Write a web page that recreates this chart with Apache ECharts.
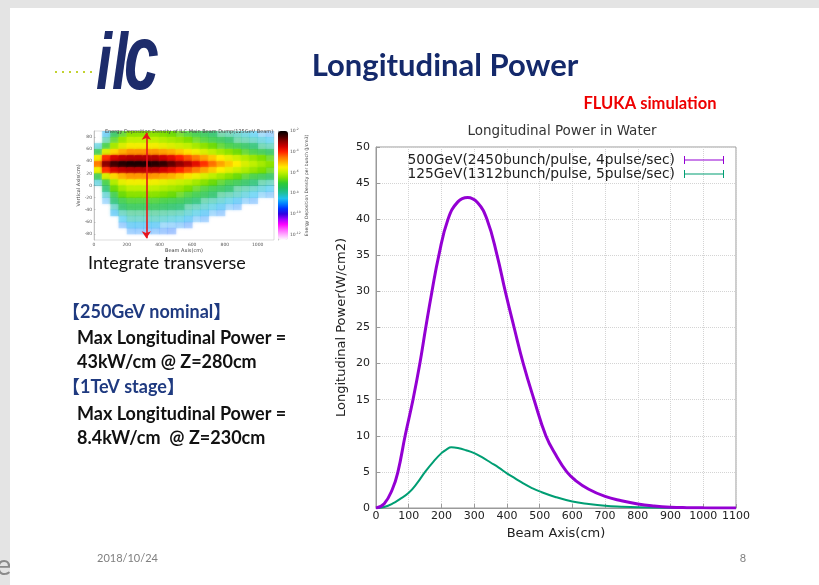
<!DOCTYPE html>
<html>
<head>
<meta charset="utf-8">
<script src="https://cdn.jsdelivr.net/npm/echarts@6/dist/echarts.min.js"></script>
<style>
  html, body { margin: 0; padding: 0; background: #e4e4e4; }
  #chart { width: 819px; height: 585px; }
</style>
</head>
<body>
<div id="chart"></div>
<script>
// Longitudinal power deposited in the water dump (W/cm2) along the beam axis (cm)
const name500 = '500GeV(2450bunch/pulse, 4pulse/sec)';
const name125 = '125GeV(1312bunch/pulse, 5pulse/sec)';

const beamAxis500 = [0, 25, 50, 67, 89, 113, 134, 152, 171, 192, 220, 250, 280, 310, 339, 370, 395, 422, 450, 483, 519, 550, 583, 610, 650, 700, 750, 800, 850, 900, 950, 1000, 1050, 1100];
const power500 = [0, 0.6, 2.6, 5, 10, 15, 20, 25, 30, 35, 40, 42.4, 43, 42.3, 40, 35, 30, 25, 20, 15, 10, 7.3, 5, 3.8, 2.6, 1.6, 1.0, 0.55, 0.28, 0.12, 0.05, 0.02, 0.01, 0];

const beamAxis125 = [0, 25, 50, 75, 100, 125, 150, 175, 200, 215, 230, 250, 275, 300, 325, 350, 375, 400, 425, 450, 475, 500, 550, 600, 650, 700, 750, 800, 900, 1000, 1100];
const power125 = [0, 0.15, 0.6, 1.3, 2.1, 3.4, 5.0, 6.4, 7.6, 8.1, 8.4, 8.3, 8.0, 7.6, 7.0, 6.3, 5.6, 4.8, 4.1, 3.4, 2.8, 2.3, 1.5, 0.9, 0.55, 0.3, 0.17, 0.09, 0.03, 0.01, 0];

// Energy deposition map of the main beam dump (log10 of J/cm3 per bunch),
// one column per 50 cm slice along the beam, rows from top (85 cm) to bottom (-85 cm)
const dumpBeamAxis = [25, 75, 125, 175, 225, 275, 325, 375, 425, 475, 525, 575, 625, 675, 725, 775, 825, 875, 925, 975, 1025, 1075];
const dumpVertical = [85, 75, 65, 55, 45, 35, 25, 15, 5, -5, -15, -25, -35, -45, -55, -65, -75, -85];
const dumpLog10 = [
  [null, null, -8.3, -7.2, -5.6, -4.6, -5.6, -7.2, -8.3, null, null, null, null, null, null, null, null, null],
  [-8.6, -7.9, -7, -5.8, -4.1, -3, -4.1, -5.8, -7, -7.6, -8.2, -8.8, null, null, null, null, null, null],
  [-7.4, -6.8, -6.2, -5.3, -3.6, -2.5, -3.6, -5.3, -6.1, -6.6, -7.1, -7.6, -8.1, -8.6, null, null, null, null],
  [-6.8, -6.3, -5.8, -5, -3.4, -2.3, -3.4, -5, -5.7, -6.2, -6.6, -7.1, -7.5, -8, -8.5, -9, null, null],
  [-6.4, -6, -5.6, -4.8, -3.3, -2.2, -3.3, -4.8, -5.6, -6, -6.4, -6.9, -7.3, -7.7, -8.1, -8.6, -9, null],
  [-6.4, -6, -5.6, -4.8, -3.3, -2.2, -3.3, -4.8, -5.6, -6, -6.4, -6.9, -7.3, -7.7, -8.1, -8.6, -9, null],
  [-6.4, -6, -5.6, -4.8, -3.3, -2.2, -3.3, -4.8, -5.6, -6, -6.4, -6.9, -7.3, -7.7, -8.1, -8.6, -9, null],
  [-6.4, -6, -5.6, -4.8, -3.3, -2.3, -3.3, -4.8, -5.6, -6, -6.4, -6.9, -7.3, -7.7, -8.1, -8.6, -9, null],
  [-6.5, -6.1, -5.7, -4.9, -3.5, -2.4, -3.5, -4.9, -5.7, -6.1, -6.5, -7, -7.4, -7.8, -8.2, -8.7, -9.1, null],
  [-6.6, -6.2, -5.8, -5, -3.7, -2.7, -3.7, -5, -5.8, -6.2, -6.6, -7.1, -7.5, -7.9, -8.3, -8.8, -9.2, null],
  [-6.7, -6.3, -5.9, -5.2, -4, -3, -4, -5.2, -5.9, -6.3, -6.7, -7.2, -7.6, -8, -8.4, -8.9, null, null],
  [-6.9, -6.5, -6, -5.4, -4.3, -3.3, -4.3, -5.4, -6, -6.5, -6.9, -7.4, -7.8, -8.2, -8.6, -9.1, null, null],
  [-7.1, -6.7, -6.2, -5.6, -4.6, -3.7, -4.6, -5.6, -6.2, -6.7, -7.1, -7.6, -8, -8.4, -8.8, null, null, null],
  [-7.3, -6.9, -6.4, -5.8, -4.9, -4.1, -4.9, -5.8, -6.4, -6.9, -7.3, -7.8, -8.2, -8.6, -9, null, null, null],
  [-7.5, -7.1, -6.6, -6, -5.2, -4.5, -5.2, -6, -6.6, -7.1, -7.5, -8, -8.4, -8.8, null, null, null, null],
  [-7.7, -7.3, -6.8, -6.2, -5.5, -4.9, -5.5, -6.2, -6.8, -7.3, -7.7, -8.2, -8.6, -9, null, null, null, null],
  [-7.9, -7.5, -7, -6.4, -5.7, -5.2, -5.7, -6.4, -7, -7.5, -7.9, -8.4, -8.8, null, null, null, null, null],
  [-8.1, -7.7, -7.2, -6.6, -5.9, -5.5, -5.9, -6.6, -7.2, -7.7, -8.1, -8.6, -9, null, null, null, null, null],
  [-8.3, -7.9, -7.4, -6.8, -6.1, -5.8, -6.1, -6.8, -7.4, -7.9, -8.3, -8.8, null, null, null, null, null, null],
  [-8.5, -8.1, -7.6, -7, -6.3, -6, -6.3, -7, -7.6, -8.1, -8.5, -9, null, null, null, null, null, null],
  [-8.7, -8.3, -7.8, -7.2, -6.5, -6.2, -6.5, -7.2, -7.8, -8.3, -8.7, null, null, null, null, null, null, null],
  [-8.9, -8.5, -8, -7.4, -6.7, -6.4, -6.7, -7.4, -8, -8.5, -8.9, null, null, null, null, null, null, null]
];
const dumpTickX = [0, 200, 400, 600, 800, 1000];
const dumpTickY = [-80, -60, -40, -20, 0, 20, 40, 60, 80];
const colorbarTicks = [-2, -4, -6, -8, -10, -12];
const integrationLineZ = 320;

const colorbarColors = ['#ffffff', '#ffb0ff', '#ff60ff', '#ff00ff', '#a000ff', '#3000e0', '#0030ff', '#0080ff',
  '#20c0f0', '#20c0a0', '#20c060', '#30cc30', '#80e000', '#c0f000', '#ffee00', '#ffb000', '#ff7000',
  '#ff2000', '#d00000', '#900000', '#400000', '#000000'];

const zip = (xs, ys) => xs.map((x, i) => [x, ys[i]]);
const dumpCells = [];
dumpBeamAxis.forEach((x, c) => {
  dumpVertical.forEach((y, r) => {
    const v = dumpLog10[c][r];
    if (v !== null) dumpCells.push([x, y, v]);
  });
});

const slideFont = "Lato, 'Noto Sans CJK JP', sans-serif";
const plainNumber = v => String(v);
const chart = echarts.init(document.getElementById('chart'), null, { renderer: 'canvas' });

const option = {
  backgroundColor: '#e4e4e4',
  animation: false,
  textStyle: { fontFamily: 'DejaVu Sans' },
  title: [
    {
      text: 'Longitudinal Power in Water', left: 557, top: 119, textAlign: 'center',
      textStyle: { fontSize: 13.5, fontWeight: 'normal', color: '#333' }
    },
    {
      text: 'Energy Deposition Density of ILC Main Beam Dump(125GeV Beam)', left: 184, top: 124, textAlign: 'center',
      textStyle: { fontSize: 5, fontWeight: 'normal', color: '#444' }
    }
  ],
  legend: {
    data: [name500, name125],
    orient: 'vertical', align: 'right', right: 95, top: 152.5, padding: 0,
    itemWidth: 40, itemHeight: 8, itemGap: -1,
    icon: 'path://M0,0h1v8h-1z M0,3.5h40v1h-40z M39,0h1v8h-1z',
    selectedMode: false,
    textStyle: { fontSize: 13.8, color: '#222', lineHeight: 15, padding: [0, 4, 0, 0] }
  },
  grid: [
    { left: 376, top: 147, width: 360, height: 361, show: true, borderColor: '#9a9a9a', borderWidth: 1 },
    { left: 94, top: 131, width: 180, height: 109, show: true, borderColor: '#bbb', borderWidth: 0.5 },
    { left: 278, top: 131, width: 10, height: 109 }
  ],
  xAxis: [
    {
      type: 'value', gridIndex: 0, min: 0, max: 1100, interval: 100,
      axisLine: { lineStyle: { color: '#9a9a9a' } },
      axisTick: { inside: true, length: 4, lineStyle: { color: '#9a9a9a' } },
      axisLabel: { fontSize: 11, color: '#222', margin: 3, formatter: plainNumber },
      splitLine: { lineStyle: { color: '#d4d4d4', type: 'dotted' } },
      name: 'Beam Axis(cm)', nameLocation: 'middle', nameGap: 16,
      nameTextStyle: { fontSize: 13, color: '#222' }
    },
    {
      type: 'value', gridIndex: 1, min: 0, max: 1100,
      axisLine: { lineStyle: { color: '#999', width: 0.5 } },
      axisTick: { inside: true, length: 1.5, customValues: dumpTickX, lineStyle: { color: '#999', width: 0.5 } },
      axisLabel: { fontSize: 4.5, color: '#555', margin: 2, customValues: dumpTickX, formatter: plainNumber },
      splitLine: { show: false },
      name: 'Beam Axis(cm)', nameLocation: 'middle', nameGap: 7,
      nameTextStyle: { fontSize: 5, color: '#444' }
    },
    { type: 'value', gridIndex: 2, min: 0, max: 1, show: false }
  ],
  yAxis: [
    {
      type: 'value', gridIndex: 0, min: 0, max: 50, interval: 5,
      axisLine: { show: true, lineStyle: { color: '#9a9a9a' } },
      axisTick: { show: true, inside: true, length: 4, lineStyle: { color: '#9a9a9a' } },
      axisLabel: { fontSize: 11, color: '#222', margin: 6 },
      splitLine: { lineStyle: { color: '#d4d4d4', type: 'dotted' } },
      name: 'Longitudinal Power(W/cm2)', nameLocation: 'middle', nameGap: 28,
      nameTextStyle: { fontSize: 13, color: '#222' }
    },
    {
      type: 'value', gridIndex: 1, min: -90, max: 90,
      axisLine: { show: true, lineStyle: { color: '#999', width: 0.5 } },
      axisTick: { show: true, inside: true, length: 1.5, customValues: dumpTickY, lineStyle: { color: '#999', width: 0.5 } },
      axisLabel: { fontSize: 4.5, color: '#555', margin: 2, customValues: dumpTickY },
      splitLine: { show: false },
      name: 'Vertical Axis(cm)', nameLocation: 'middle', nameGap: 10,
      nameTextStyle: { fontSize: 5, color: '#444' }
    },
    {
      type: 'value', gridIndex: 2, min: -12.5, max: -2, position: 'right',
      axisLine: { show: true, lineStyle: { color: '#888', width: 0.5 } },
      axisTick: { show: true, length: 1.5, customValues: colorbarTicks, lineStyle: { color: '#888', width: 0.5 } },
      axisLabel: {
        fontSize: 4.5, color: '#555', margin: 2, customValues: colorbarTicks,
        formatter: v => '10{e|' + v + '}',
        rich: { e: { fontSize: 3, verticalAlign: 'top', padding: [0, 0, 3, 0] } }
      },
      splitLine: { show: false },
      name: 'Energy Deposition Density per bunch (J/cm3)', nameLocation: 'middle', nameRotate: 90, nameGap: 13,
      nameTextStyle: { fontSize: 4.5, color: '#444' }
    }
  ],
  visualMap: {
    type: 'continuous', seriesIndex: 2, dimension: 2, min: -12.5, max: -2,
    inRange: { color: colorbarColors },
    left: 278, top: 131, itemWidth: 10, itemHeight: 109, padding: 0,
    calculable: false, hoverLink: false, text: null, textStyle: { fontSize: 1, color: 'rgba(0,0,0,0)' }
  },
  series: [
    {
      name: name500, type: 'line', xAxisIndex: 0, yAxisIndex: 0,
      data: zip(beamAxis500, power500), symbol: 'none', smooth: 0.45,
      lineStyle: { color: '#9400d3', width: 3 }, itemStyle: { color: '#9400d3' }, z: 4
    },
    {
      name: name125, type: 'line', xAxisIndex: 0, yAxisIndex: 0,
      data: zip(beamAxis125, power125), symbol: 'none', smooth: 0.45,
      lineStyle: { color: '#009e73', width: 2 }, itemStyle: { color: '#009e73' }, z: 3
    },
    {
      type: 'custom', xAxisIndex: 1, yAxisIndex: 1, data: dumpCells, silent: true,
      encode: { x: 0, y: 1 }, clip: true,
      renderItem: (params, api) => {
        const x = api.value(0), y = api.value(1), v = api.value(2);
        const p0 = api.coord([x - 25, y + 5]);
        const p1 = api.coord([x + 25, y - 5]);
        const opacity = v > -6.7 ? 1 : v > -7.7 ? 0.6 : v > -8.7 ? 0.35 : 0.2;
        const color = api.visual('color');
        return {
          type: 'rect',
          shape: { x: p0[0], y: p0[1], width: p1[0] - p0[0] + 0.4, height: p1[1] - p0[1] + 0.4 },
          style: { fill: color, opacity: opacity, shadowBlur: 3, shadowColor: color }
        };
      },
      markLine: {
        silent: true, symbol: ['arrow', 'arrow'], symbolSize: 7,
        label: { show: false },
        lineStyle: { color: '#e8141c', width: 1.6, type: 'solid' },
        data: [[{ coord: [integrationLineZ, -87] }, { coord: [integrationLineZ, 87] }]]
      }
    }
  ],
  graphic: {
    elements: [
      { type: 'text', z: -20, style: { x: -4, y: 566, text: 'e', font: '29px ' + slideFont, fill: '#8a8a8a', textVerticalAlign: 'middle' } },
      { type: 'rect', z: -10, shape: { x: 10, y: 8, width: 809, height: 577 }, style: { fill: '#ffffff' } },
      // logo
      { type: 'rect', shape: { x: 55, y: 71, width: 2, height: 2 }, style: { fill: '#c2d230' } },
      { type: 'rect', shape: { x: 62, y: 71, width: 2, height: 2 }, style: { fill: '#c2d230' } },
      { type: 'rect', shape: { x: 69, y: 71, width: 2, height: 2 }, style: { fill: '#c2d230' } },
      { type: 'rect', shape: { x: 76, y: 71, width: 2, height: 2 }, style: { fill: '#c2d230' } },
      { type: 'rect', shape: { x: 83, y: 71, width: 2, height: 2 }, style: { fill: '#c2d230' } },
      { type: 'rect', shape: { x: 90, y: 71, width: 2, height: 2 }, style: { fill: '#c2d230' } },
      { type: 'text', x: 96, y: 67, scaleX: 0.72, style: { text: 'il', font: 'italic bold 80px "Liberation Sans"', fill: '#1d2c6b', textVerticalAlign: 'middle' } },
      { type: 'text', x: 124, y: 64, scaleX: 0.78, scaleY: 1.15, style: { text: 'c', font: 'italic bold 80px "Liberation Sans"', fill: '#1d2c6b', textVerticalAlign: 'middle' } },
      // slide heading
      { type: 'text', style: { x: 445, y: 66, text: 'Longitudinal Power', font: 'bold 31px ' + slideFont, fill: '#14296b', textAlign: 'center', textVerticalAlign: 'middle' } },
      { type: 'text', style: { x: 650, y: 104, text: 'FLUKA simulation', font: 'bold 16.5px ' + slideFont, fill: '#ee0000', textAlign: 'center', textVerticalAlign: 'middle' } },
      { type: 'text', style: { x: 88, y: 263, text: 'Integrate transverse', font: '18px ' + slideFont, fill: '#111', textVerticalAlign: 'middle' } },
      // summary
      { type: 'text', style: { x: 62, y: 312, text: '【250GeV nominal】', font: 'bold 18px ' + slideFont, fill: '#1f3a80', textVerticalAlign: 'middle' } },
      { type: 'text', style: { x: 77, y: 338, text: 'Max Longitudinal Power =', font: 'bold 18px ' + slideFont, fill: '#111', textVerticalAlign: 'middle' } },
      { type: 'text', style: { x: 77, y: 362, text: '43kW/cm @ Z=280cm', font: 'bold 18px ' + slideFont, fill: '#111', textVerticalAlign: 'middle' } },
      { type: 'text', style: { x: 62, y: 387, text: '【1TeV stage】', font: 'bold 18px ' + slideFont, fill: '#1f3a80', textVerticalAlign: 'middle' } },
      { type: 'text', style: { x: 77, y: 414, text: 'Max Longitudinal Power =', font: 'bold 18px ' + slideFont, fill: '#111', textVerticalAlign: 'middle' } },
      { type: 'text', style: { x: 77, y: 438, text: '8.4kW/cm  @ Z=230cm', font: 'bold 18px ' + slideFont, fill: '#111', textVerticalAlign: 'middle' } },
      // footer
      { type: 'text', style: { x: 97, y: 558, text: '2018/10/24', font: '11px ' + slideFont, fill: '#808080', textVerticalAlign: 'middle' } },
      { type: 'text', style: { x: 743, y: 558, text: '8', font: '11px ' + slideFont, fill: '#808080', textAlign: 'center', textVerticalAlign: 'middle' } }
    ]
  }
};

chart.setOption(option);
</script>
</body>
</html>
